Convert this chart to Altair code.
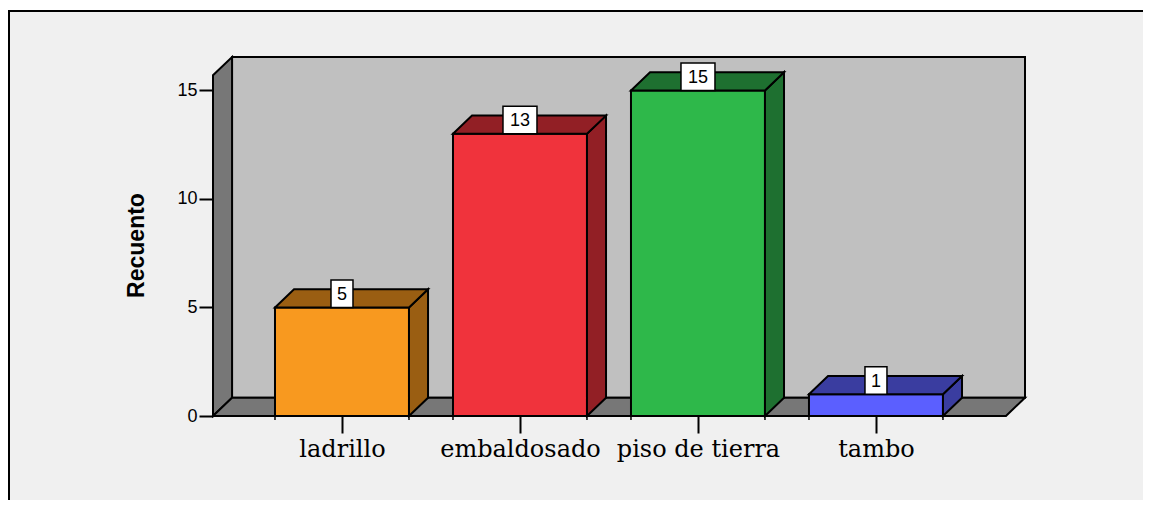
import json
import altair as alt
import pandas as pd

# ---- data ----
categories = ["ladrillo", "embaldosado", "piso de tierra", "tambo"]
counts = [5, 13, 15, 1]
front_colors = ["#F8991F", "#F0333C", "#2EB84A", "#5B5FFF"]
dark_colors = ["#9A5E12", "#921F25", "#1E7030", "#3A3DA0"]
y_ticks = [0, 5, 10, 15]
y_title = "Recuento"

# ---- geometry (in scale units) ----
FIRST = 0.7247      # first category centre (category step = 1)
HALF = 0.3764       # half bar width
DX = 0.107          # 3D depth, horizontal
DY = 0.84           # 3D depth, vertical (counts)
XMAX = 4.562
YMAX = 16.54
WALL = 15.7
PX_PER_STEP = 178.0
PX_PER_COUNT = 21.7

centres = [FIRST + i for i in range(len(categories))]

front = pd.DataFrame({
    "cat": categories,
    "c": centres,
    "x0": [c - HALF for c in centres],
    "x1": [c + HALF for c in centres],
    "v": counts,
    "fill": front_colors,
})

side_rows, top_rows = [], []
for cat, c, v, col in zip(categories, centres, counts, dark_colors):
    x0, x1 = c - HALF, c + HALF
    side_rows += [
        {"cat": cat, "x": x1, "lo": 0, "hi": v, "fill": col},
        {"cat": cat, "x": x1 + DX, "lo": DY, "hi": v + DY, "fill": col},
    ]
    top_rows += [
        {"cat": cat, "x": x0, "lo": v, "hi": v, "fill": col},
        {"cat": cat, "x": x0 + DX, "lo": v, "hi": v + DY, "fill": col},
        {"cat": cat, "x": x1, "lo": v, "hi": v + DY, "fill": col},
        {"cat": cat, "x": x1 + DX, "lo": v + DY, "hi": v + DY, "fill": col},
    ]
side = pd.DataFrame(side_rows)
top = pd.DataFrame(top_rows)

labels = pd.DataFrame({
    "c": centres,
    "v": counts,
    "txt": [str(v) for v in counts],
})
labels["bx0"] = [c - (5 + 6 * len(t)) / PX_PER_STEP for c, t in zip(labels.c, labels.txt)]
labels["bx1"] = [c + (5 + 6 * len(t)) / PX_PER_STEP for c, t in zip(labels.c, labels.txt)]
labels["btop"] = labels.v + 27.5 / PX_PER_COUNT
labels["mid"] = labels.v + 13.75 / PX_PER_COUNT

left_wall = pd.DataFrame({"x": [0, DX], "lo": [0, DY], "hi": [WALL, WALL + DY]})
floor = pd.DataFrame({"x": [0, DX, XMAX - DX, XMAX], "lo": [0, 0, 0, DY], "hi": [0, DY, DY, DY]})
back = pd.DataFrame({"x0": [DX], "x1": [XMAX], "y0": [DY], "y1": [WALL + DY]})

edges = pd.DataFrame({"e": [x for c in centres for x in (c - HALF, c + HALF)]})

# ---- scales / axes ----
xs = alt.Scale(domain=[0, XMAX], nice=False, zero=False)
ys = alt.Scale(domain=[0, YMAX], nice=False, zero=False)
label_expr = json.dumps(categories) + f"[round(datum.value - {FIRST})]"
xaxis = alt.Axis(values=centres, labelExpr=label_expr, domain=False, grid=False,
                 tickSize=17, tickWidth=2, tickColor="black",
                 labelFont="DejaVu Serif", labelFontSize=24, labelColor="black",
                 labelBaseline="alphabetic", labelPadding=23, title=None, zindex=1)
yaxis = alt.Axis(values=y_ticks, domain=False, grid=False, tickSize=14, tickWidth=2,
                 tickColor="black", labelFont="Liberation Sans", labelFontSize=18,
                 labelColor="black", labelPadding=2, title=y_title,
                 titleFont="Liberation Sans", titleFontSize=23, titleFontWeight="bold",
                 titleColor="black", titleBaseline="middle", titleX=-77, titleY=188,
                 titleAngle=270, titleAlign="center", zindex=1)


def X(f):
    return alt.X(f, type="quantitative", scale=xs, axis=xaxis)


def Y(f):
    return alt.Y(f, type="quantitative", scale=ys, axis=yaxis)


frame = alt.Chart(back).mark_rect(fill="#F0F0F0", stroke="black", strokeWidth=2).encode(
    x=alt.value(-204), y=alt.value(-46), x2=alt.value(3000), y2=alt.value(3000))

back_wall = alt.Chart(back).mark_rect(fill="#C0C0C0", stroke="black", strokeWidth=2).encode(
    x=X("x0"), x2="x1", y=Y("y0"), y2="y1")

lwall = alt.Chart(left_wall).mark_area(fill="#777777", stroke="black", strokeWidth=2).encode(
    x=X("x"), y=Y("lo"), y2="hi")

flr = alt.Chart(floor).mark_area(fill="#777777", stroke="black", strokeWidth=2).encode(
    x=X("x"), y=Y("lo"), y2="hi")

fronts = alt.Chart(front).mark_rect(stroke="black", strokeWidth=2).encode(
    x=X("x0"), x2="x1", y=Y("v"), y2=alt.datum(0),
    fill=alt.Fill("fill:N", scale=None))

sides = alt.Chart(side).mark_area(stroke="black", strokeWidth=2).encode(
    x=X("x"), y=Y("lo"), y2="hi", detail="cat:N",
    fill=alt.Fill("fill:N", scale=None))

tops = alt.Chart(top).mark_area(stroke="black", strokeWidth=2).encode(
    x=X("x"), y=Y("lo"), y2="hi", detail="cat:N",
    fill=alt.Fill("fill:N", scale=None))

minor = alt.Chart(edges).mark_rule(color="black", strokeWidth=1.5).encode(
    x=X("e"), y=alt.value(359), y2=alt.value(363))

boxes = alt.Chart(labels).mark_rect(fill="white", stroke="black", strokeWidth=1.5).encode(
    x=X("bx0"), x2="bx1", y=Y("v"), y2="btop")

texts = alt.Chart(labels).mark_text(font="Liberation Sans", fontSize=18, color="black",
                                    baseline="middle", align="center", dy=1).encode(
    x=X("c"), y=Y("mid"), text="txt:N")

chart = alt.layer(frame, back_wall, lwall, flr, fronts, sides, tops, minor, boxes, texts).properties(
    width=812, height=359,
    autosize=alt.AutoSizeParams(type="none"),
    padding={"left": 205, "top": 49, "right": 118, "bottom": 84},
    background="white",
).configure_view(strokeWidth=0)

chart.save("out.html", embed_options={"renderer": "svg", "actions": False})
